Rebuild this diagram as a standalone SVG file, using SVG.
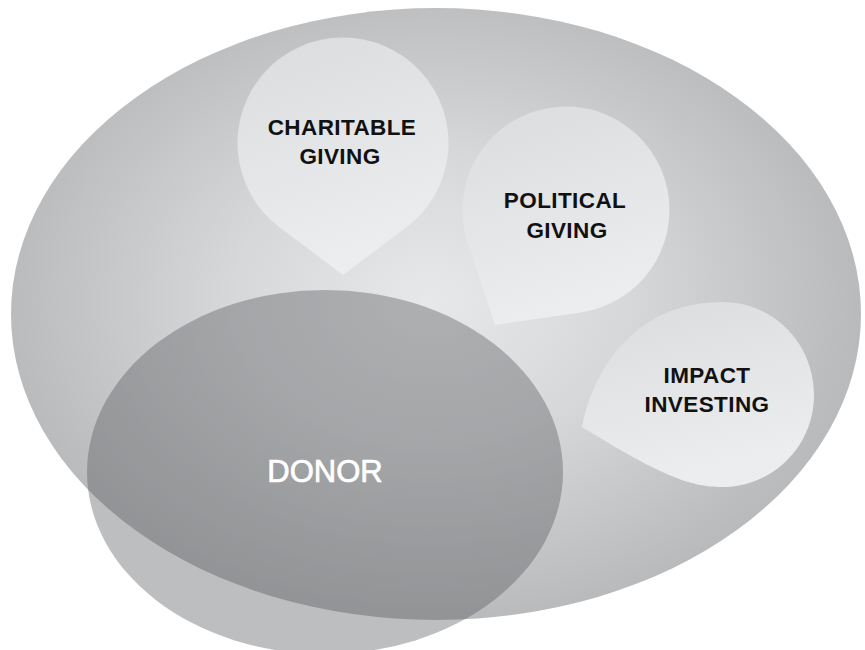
<svg xmlns="http://www.w3.org/2000/svg" width="865" height="650" viewBox="0 0 865 650">
  <defs>
    <radialGradient id="bigGrad" gradientUnits="userSpaceOnUse" cx="430" cy="300" r="430" gradientTransform="translate(430 300) scale(1 0.75) translate(-430 -300)">
      <stop offset="0" stop-color="#e7e8e9"/>
      <stop offset="0.45" stop-color="#d7d8da"/>
      <stop offset="1" stop-color="#b9babc"/>
    </radialGradient>
    <linearGradient id="dropGrad" x1="0" y1="0" x2="0.3" y2="1">
      <stop offset="0" stop-color="#dbdcde"/>
      <stop offset="1" stop-color="#ecedee"/>
    </linearGradient>
    <style>
      .drop { fill: url(#dropGrad); }
      .label { font-family: "Liberation Sans", Arial, sans-serif; font-weight: bold; font-size: 22.5px; fill: #111111; text-anchor: middle; letter-spacing: 0.4px; }
      .donor { font-family: "Liberation Sans", Arial, sans-serif; font-size: 31px; fill: #ffffff; stroke: #ffffff; stroke-width: 0.7px; text-anchor: middle; }
    </style>
  </defs>

  <g id="context">
    <ellipse cx="436" cy="314" rx="425" ry="306" fill="url(#bigGrad)"/>
  </g>

  <g id="charitable-giving">
    <path class="drop" d="M343,275 L279.6,227.3 A105.5,105.5 0 1 1 406.4,227.3 Z"/>
    <text class="label" x="342" y="135">CHARITABLE</text>
    <text class="label" x="340" y="164">GIVING</text>
  </g>

  <g id="political-giving">
    <path class="drop" d="M495,325 L467.7,242.5 A103.5,103.5 0 1 1 580.9,312.4 Z"/>
    <text class="label" x="565" y="208">POLITICAL</text>
    <text class="label" x="567" y="238">GIVING</text>
  </g>

  <g id="impact-investing">
    <path class="drop" d="M582,427 C588,395 605,355 640,328 C662,311 690,302 722,302 C773,302 814,343 814,395 C814,446 773,487 722,487 C690,487 660,475 582,427 Z"/>
    <text class="label" x="707" y="383">IMPACT</text>
    <text class="label" x="707" y="412">INVESTING</text>
  </g>

  <g id="donor">
    <ellipse cx="325" cy="472" rx="238" ry="182" fill="#515356" fill-opacity="0.38"/>
    <text class="donor" x="325" y="482">DONOR</text>
  </g>

  <g id="connectors"/>
</svg>
